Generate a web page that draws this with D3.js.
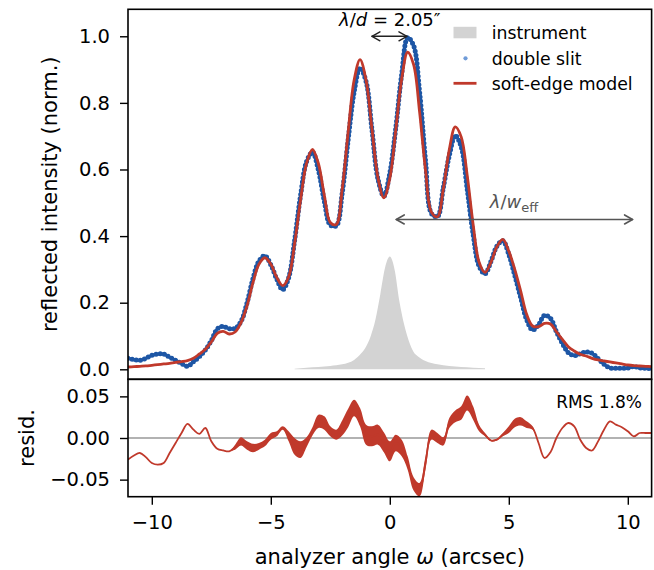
<!DOCTYPE html>
<html>
<head>
<meta charset="utf-8">
<script src="https://cdn.jsdelivr.net/npm/d3@7"></script>
<style>
  body { margin: 0; background: #fff; }
  text { font-family: "DejaVu Sans", sans-serif; }
</style>
</head>
<body>
<svg id="chart" width="654" height="570"></svg>
<script>
// analyzer angle grid (arcsec)
const omega = [-11,-10.75,-10.5,-10.25,-10,-9.75,-9.5,-9.25,-9,-8.75,-8.5,-8.25,-8,-7.75,-7.5,-7.25,-7,-6.75,-6.5,-6.25,
  -6,-5.75,-5.5,-5.25,-5,-4.75,-4.5,-4.25,-4,-3.75,-3.5,-3.25,-3,-2.75,-2.5,-2.25,-2,-1.75,-1.5,-1.25,
  -1,-0.75,-0.5,-0.25,0,0.25,0.5,0.75,1,1.25,1.5,1.75,2,2.25,2.5,2.75,3,3.25,3.5,3.75,
  4,4.25,4.5,4.75,5,5.25,5.5,5.75,6,6.25,6.5,6.75,7,7.25,7.5,7.75,8,8.25,8.5,8.75,
  9,9.25,9.5,9.75,10,10.25,10.5,10.75,11];

// soft-edge model
const model = [0.007,0.008,0.009,0.010,0.012,0.014,0.016,0.018,0.021,0.023,0.026,0.033,0.046,0.060,0.082,0.108,0.114,0.106,0.112,0.140,
  0.190,0.260,0.315,0.335,0.316,0.276,0.251,0.277,0.377,0.508,0.618,0.660,0.618,0.522,0.441,0.435,0.541,0.713,0.868,0.930,
  0.869,0.722,0.576,0.515,0.573,0.718,0.872,0.952,0.915,0.774,0.598,0.472,0.458,0.542,0.660,0.728,0.698,0.584,0.436,0.322,
  0.291,0.321,0.368,0.390,0.355,0.300,0.235,0.165,0.130,0.128,0.138,0.136,0.113,0.090,0.068,0.055,0.045,0.040,0.033,0.028,
  0.025,0.022,0.019,0.016,0.013,0.011,0.010,0.009,0.008];

// measured double slit
const measured = [0.033,0.029,0.027,0.033,0.042,0.046,0.046,0.036,0.027,0.017,0.009,0.023,0.038,0.058,0.086,0.121,0.129,0.122,0.123,0.144,
  0.199,0.272,0.325,0.341,0.314,0.271,0.239,0.275,0.387,0.522,0.623,0.652,0.598,0.504,0.433,0.431,0.529,0.689,0.832,0.905,
  0.865,0.720,0.572,0.520,0.589,0.724,0.886,0.996,0.972,0.834,0.628,0.468,0.458,0.546,0.642,0.702,0.668,0.542,0.406,0.310,
  0.287,0.324,0.370,0.386,0.345,0.282,0.215,0.149,0.118,0.134,0.162,0.153,0.113,0.078,0.050,0.041,0.047,0.052,0.048,0.032,
  0.015,0.004,0.003,0.003,0.004,0.008,0.004,0.003,0.002];

// residual and its fringe spread
const resid = [-0.026,-0.021,-0.018,-0.023,-0.030,-0.032,-0.030,-0.018,-0.006,0.006,0.017,0.010,0.005,0.012,-0.004,-0.013,-0.015,-0.016,-0.011,-0.004,
  -0.009,-0.012,-0.010,-0.006,0.002,0.005,0.012,0.002,-0.010,-0.014,-0.005,0.008,0.020,0.018,0.008,0.004,0.012,0.024,0.036,0.025,
  0.004,0.002,0.004,-0.005,-0.016,-0.006,-0.012,-0.030,-0.055,-0.062,-0.030,0.004,0.000,-0.004,0.018,0.026,0.030,0.042,0.030,0.012,
  0.004,-0.003,-0.002,0.004,0.010,0.018,0.020,0.016,0.012,-0.006,-0.024,-0.017,0.000,0.012,0.018,0.014,-0.002,-0.012,-0.015,-0.004,
  0.010,0.020,0.016,0.013,0.008,0.002,0.006,0.006,0.006];
const residSpread = [0,0,0,0,0,0,0,0,0,0,0,0,0,0,0,0,0,0,0.003,0.005,
  0.005,0.005,0.004,0.004,0.004,0.003,0.002,0.006,0.010,0.010,0.006,0.005,0.008,0.008,0.006,0.006,0.009,0.011,0.010,0.011,
  0.012,0.012,0.012,0.012,0.012,0.010,0.010,0.008,0.008,0.008,0.008,0.006,0.006,0.005,0.006,0.007,0.008,0.009,0.008,0.004,
  0.002,0.001,0.001,0.002,0.004,0.005,0.005,0.004,0.002,0,0,0,0,0,0,0,0,0,0,0,
  0,0,0,0,0,0,0,0,0];

// instrument profile
const instOmega = [-4,-3.5,-3,-2.5,-2,-1.5,-1.2,-1,-0.8,-0.6,-0.4,-0.2,0,0.2,0.4,0.6,0.8,1,1.2,1.5,2,2.5,3,3.5,4];
const instVal = [0.002,0.005,0.007,0.010,0.015,0.028,0.048,0.068,0.100,0.150,0.225,0.305,0.339,0.300,0.205,0.135,0.085,0.052,0.038,0.025,0.015,0.010,0.007,0.005,0.003];

const xTicks = [-10, -5, 0, 5, 10];
const yTicks = [0, 0.2, 0.4, 0.6, 0.8, 1.0];
const rTicks = [-0.05, 0, 0.05];

const RED = '#c0392b', BLUE = '#1d56a5', GRAY = '#d3d3d3';
const L = 128, R = 651.6, T = 9.3, MID = 379.3, B = 496.7;

const svg = d3.select('#chart');
const x = d3.scaleLinear().domain([-11, 11]).range([L, R]);
const y = d3.scaleLinear().domain([-0.03, 1.081]).range([MID, T]);
const yr = d3.scaleLinear().domain([-0.0705, 0.0705]).range([B, MID]);
const minus = s => s.replace('-', '\u2212');

const defs = svg.append('defs');
defs.append('clipPath').attr('id', 'clipTop').append('rect')
  .attr('x', L).attr('y', T).attr('width', R - L).attr('height', MID - T);
defs.append('clipPath').attr('id', 'clipRes').append('rect')
  .attr('x', L).attr('y', MID).attr('width', R - L).attr('height', B - MID);

const idx = d3.range(omega.length);
const gTop = svg.append('g').attr('clip-path', 'url(#clipTop)');

// instrument
const inst = d3.range(instOmega.length);
gTop.append('path').datum(inst)
  .attr('d', d3.area().curve(d3.curveMonotoneX)
    .x(i => x(instOmega[i])).y0(y(0)).y1(i => y(instVal[i])))
  .attr('fill', GRAY);

// measured: beaded dots
const lineM = d3.line().curve(d3.curveCatmullRom.alpha(0.5)).x(i => x(omega[i])).y(i => y(measured[i]));
gTop.append('path').datum(idx).attr('d', lineM)
  .attr('fill', 'none').attr('stroke', BLUE).attr('stroke-width', 3).attr('stroke-opacity', 0.9);
gTop.append('path').datum(idx).attr('d', lineM)
  .attr('fill', 'none').attr('stroke', BLUE).attr('stroke-width', 5)
  .attr('stroke-linecap', 'round').attr('stroke-dasharray', '0 4.2');

// model
gTop.append('path').datum(idx)
  .attr('d', d3.line().curve(d3.curveCatmullRom.alpha(0.5)).x(i => x(omega[i])).y(i => y(model[i])))
  .attr('fill', 'none').attr('stroke', RED).attr('stroke-width', 2.8);

// arrows
function dblArrow(x1, x2, yy, color, lw) {
  const g = svg.append('g').attr('stroke', color).attr('stroke-width', lw).attr('fill', 'none')
    .attr('stroke-linecap', 'round').attr('stroke-linejoin', 'round');
  g.append('line').attr('x1', x1).attr('x2', x2).attr('y1', yy).attr('y2', yy);
  const hl = 8, hw = 4.5;
  g.append('path').attr('d', `M${x1 + hl},${yy - hw}L${x1},${yy}L${x1 + hl},${yy + hw}`);
  g.append('path').attr('d', `M${x2 - hl},${yy - hw}L${x2},${yy}L${x2 - hl},${yy + hw}`);
}
dblArrow(x(-0.75), x(0.72), y(1.0), '#222', 1.4);
dblArrow(x(0.27), x(10.2), y(0.45), '#555', 1.6);

const t1 = svg.append('text').attr('x', x(0)).attr('y', 26).attr('text-anchor', 'middle')
  .attr('font-size', 18).attr('fill', '#000');
t1.append('tspan').attr('font-style', 'italic').text('λ');
t1.append('tspan').text('/');
t1.append('tspan').attr('font-style', 'italic').text('d');
t1.append('tspan').text(' = 2.05\u2033');

const t2 = svg.append('text').attr('x', x(5.22)).attr('y', 208).attr('text-anchor', 'middle')
  .attr('font-size', 18).attr('fill', '#555');
t2.append('tspan').attr('font-style', 'italic').text('λ');
t2.append('tspan').text('/');
t2.append('tspan').attr('font-style', 'italic').text('w');
t2.append('tspan').attr('font-size', 13).attr('dy', 4).text('eff');

// legend
const lg = svg.append('g').attr('font-size', 17.3);
lg.append('rect').attr('x', 453.5).attr('y', 26.8).attr('width', 23).attr('height', 11.5).attr('fill', GRAY);
lg.append('circle').attr('cx', 465.5).attr('cy', 58.3).attr('r', 2.1).attr('fill', '#6f9bd8');
lg.append('line').attr('x1', 453.5).attr('x2', 476.5).attr('y1', 83.3).attr('y2', 83.3)
  .attr('stroke', RED).attr('stroke-width', 2.8);
[['instrument', 32.5], ['double slit', 58.3], ['soft-edge model', 83.3]].forEach(([s, yy]) => {
  lg.append('text').attr('x', 491.7).attr('y', yy).attr('dy', '0.36em').text(s);
});

// residual panel
const gRes = svg.append('g').attr('clip-path', 'url(#clipRes)');
gRes.append('line').attr('x1', L).attr('x2', R).attr('y1', yr(0)).attr('y2', yr(0))
  .attr('stroke', '#999').attr('stroke-width', 1.3);
gRes.append('path').datum(idx)
  .attr('d', d3.area().curve(d3.curveCatmullRom.alpha(0.5)).x(i => x(omega[i]))
    .y0(i => yr(resid[i] - residSpread[i])).y1(i => yr(resid[i] + residSpread[i])))
  .attr('fill', RED);
gRes.append('path').datum(idx)
  .attr('d', d3.line().curve(d3.curveCatmullRom.alpha(0.5)).x(i => x(omega[i])).y(i => yr(resid[i])))
  .attr('fill', 'none').attr('stroke', RED).attr('stroke-width', 1.8);

svg.append('text').attr('x', 642).attr('y', 408).attr('text-anchor', 'end')
  .attr('font-size', 17).text('RMS 1.8%');

// axes
const axStyle = g => {
  g.select('.domain').remove();
  g.selectAll('.tick line').attr('stroke', '#000').attr('stroke-width', 1.4);
  g.selectAll('.tick text').attr('font-size', 19.5).attr('fill', '#000')
    .attr('font-family', '"DejaVu Sans", sans-serif');
};
svg.append('g').attr('transform', `translate(${L},0)`)
  .call(d3.axisLeft(y).tickValues(yTicks).tickFormat(d => minus(d3.format('.1f')(d))).tickSize(8).tickPadding(10))
  .call(axStyle);
svg.append('g').attr('transform', `translate(${L},0)`)
  .call(d3.axisLeft(yr).tickValues(rTicks).tickFormat(d => minus(d3.format('.2f')(d))).tickSize(8).tickPadding(10))
  .call(axStyle);
svg.append('g').attr('transform', `translate(0,${B})`)
  .call(d3.axisBottom(x).tickValues(xTicks).tickFormat(d => minus(d3.format('d')(d))).tickSize(8).tickPadding(10))
  .call(axStyle);

// frames
[[T, MID], [MID, B]].forEach(([a, b]) => {
  svg.append('rect').attr('x', L).attr('y', a).attr('width', R - L).attr('height', b - a)
    .attr('fill', 'none').attr('stroke', '#000').attr('stroke-width', 1.6);
});

// axis labels
svg.append('text').attr('transform', `translate(57,${(T + MID) / 2}) rotate(-90)`)
  .attr('text-anchor', 'middle').attr('font-size', 21).text('reflected intensity (norm.)');
svg.append('text').attr('transform', `translate(34,${(MID + B) / 2}) rotate(-90)`)
  .attr('text-anchor', 'middle').attr('font-size', 21).text('resid.');
const xl = svg.append('text').attr('x', x(0)).attr('y', 564).attr('text-anchor', 'middle').attr('font-size', 21);
xl.append('tspan').text('analyzer angle ');
xl.append('tspan').attr('font-style', 'italic').text('ω');
xl.append('tspan').text(' (arcsec)');
</script>
</body>
</html>
